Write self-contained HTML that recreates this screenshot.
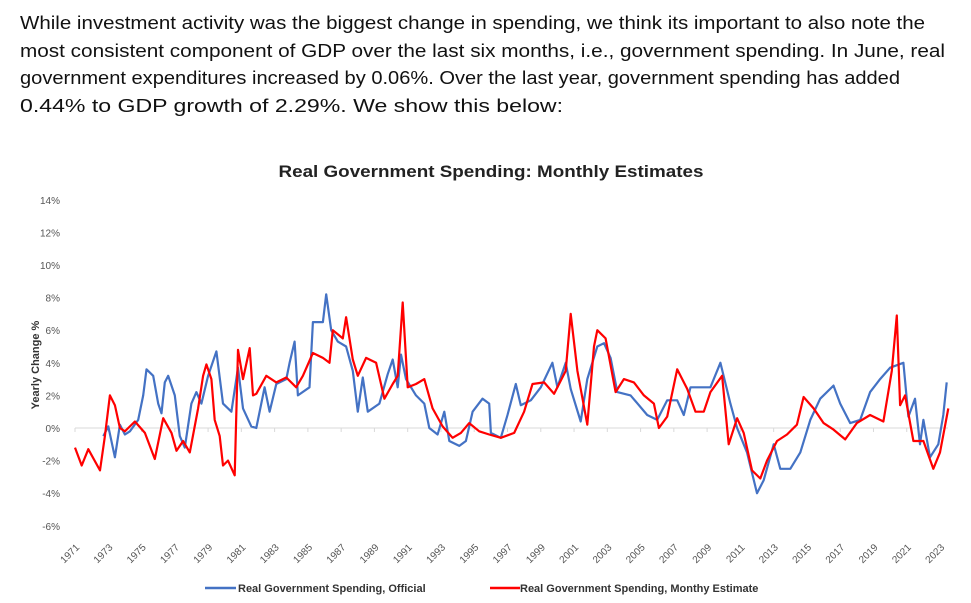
<!DOCTYPE html>
<html><head><meta charset="utf-8"><style>
html,body{margin:0;padding:0;background:#fff;}
svg{display:block;font-family:"Liberation Sans",sans-serif;}
</style></head><body>
<svg id="c" width="971" height="603" viewBox="0 0 971 603">
<g font-size="18" fill="#111">
<text x="20" y="29" textLength="905" lengthAdjust="spacingAndGlyphs">While investment activity was the biggest change in spending, we think its important to also note the</text>
<text x="20" y="57" textLength="925" lengthAdjust="spacingAndGlyphs">most consistent component of GDP over the last six months, i.e., government spending. In June, real</text>
<text x="20" y="84" textLength="880" lengthAdjust="spacingAndGlyphs">government expenditures increased by 0.06%. Over the last year, government spending has added</text>
<text x="20" y="112" textLength="543" lengthAdjust="spacingAndGlyphs">0.44%  to GDP growth of 2.29%. We show this below:</text>
</g>
<text x="491" y="177" text-anchor="middle" font-size="17" font-weight="bold" fill="#222" textLength="425" lengthAdjust="spacingAndGlyphs">Real Government Spending: Monthly Estimates</text>
<text transform="translate(39,365) rotate(-90)" text-anchor="middle" font-size="11" font-weight="bold" fill="#333">Yearly Change %</text>
<g id="yt"></g><g id="xt"></g><g id="plot"></g>
<g>
<line x1="205" y1="588" x2="236" y2="588" stroke="#4472c4" stroke-width="2.5"/>
<text x="238" y="592" font-size="11" font-weight="bold" fill="#333">Real Government Spending, Official</text>
<line x1="490" y1="588" x2="520" y2="588" stroke="#ff0000" stroke-width="2.5"/>
<text x="520" y="592" font-size="11" font-weight="bold" fill="#333">Real Government Spending, Monthy Estimate</text>
</g>
</svg>
<script>
const yTicks=[14,12,10,8,6,4,2,0,-2,-4,-6];
const xYears=[1971,1973,1975,1977,1979,1981,1983,1985,1987,1989,1991,1993,1995,1997,1999,2001,2003,2005,2007,2009,2011,2013,2015,2017,2019,2021,2023];
const officialYears=[1972.7,1973.0,1973.4,1973.7,1974.0,1974.3,1974.8,1975.1,1975.3,1975.7,1976.0,1976.2,1976.4,1976.6,1977.0,1977.3,1977.6,1978.0,1978.3,1978.6,1979.0,1979.5,1979.9,1980.4,1980.8,1981.1,1981.6,1981.9,1982.4,1982.7,1983.1,1983.7,1983.9,1984.2,1984.4,1985.1,1985.3,1985.9,1986.1,1986.4,1986.8,1987.3,1987.7,1988.0,1988.3,1988.6,1989.3,1989.8,1990.1,1990.4,1990.6,1990.9,1991.5,1992.0,1992.3,1992.8,1993.2,1993.5,1994.1,1994.5,1994.9,1995.5,1995.9,1996.0,1996.6,1997.0,1997.5,1997.8,1998.4,1999.0,1999.7,2000.0,2000.5,2000.8,2001.4,2001.8,2002.4,2002.8,2003.2,2003.6,2004.4,2005.4,2006.0,2006.6,2007.2,2007.6,2008.0,2009.2,2009.8,2010.4,2010.8,2011.4,2012.0,2012.4,2013.0,2013.4,2014.0,2014.6,2015.2,2015.8,2016.6,2017.0,2017.6,2018.2,2018.8,2019.4,2020.0,2020.8,2021.1,2021.5,2021.8,2022.0,2022.4,2022.9,2023.2,2023.4];
const officialValues=[-0.5,0.1,-1.8,0.2,-0.4,-0.2,0.5,2.0,3.6,3.2,1.5,0.9,2.8,3.2,2.0,-0.5,-1.2,1.5,2.2,1.5,3.2,4.7,1.5,1.0,3.7,1.2,0.1,0.0,2.5,1.0,2.7,3.0,4.0,5.3,2.0,2.5,6.5,6.5,8.2,6.0,5.3,5.0,3.5,1.0,3.1,1.0,1.5,3.3,4.2,2.5,4.5,3.0,2.0,1.5,0.0,-0.4,1.0,-0.8,-1.1,-0.8,1.0,1.8,1.5,-0.3,-0.6,0.8,2.7,1.4,1.7,2.5,4.0,2.5,4.0,2.4,0.4,3.0,5.0,5.2,4.3,2.2,2.0,0.8,0.5,1.7,1.7,0.8,2.5,2.5,4.0,1.5,0.0,-1.5,-4.0,-3.2,-1.0,-2.5,-2.5,-1.5,0.5,1.8,2.6,1.5,0.3,0.5,2.2,3.0,3.7,4.0,0.7,1.8,-1.0,0.5,-1.8,-1.0,0.8,2.8];
const estimateYears=[1971.0,1971.4,1971.8,1972.5,1972.8,1973.1,1973.4,1973.7,1974.0,1974.6,1975.2,1975.8,1976.3,1976.8,1977.1,1977.5,1977.9,1978.4,1978.7,1978.9,1979.2,1979.4,1979.7,1979.9,1980.2,1980.6,1980.8,1981.1,1981.5,1981.7,1981.9,1982.5,1983.1,1983.7,1984.3,1984.7,1985.3,1985.9,1986.3,1986.5,1987.1,1987.3,1987.7,1988.0,1988.5,1989.1,1989.6,1990.1,1990.4,1990.7,1991.0,1991.5,1992.0,1992.5,1993.1,1993.7,1994.2,1994.7,1995.3,1995.9,1996.6,1997.4,1998.0,1998.5,1999.2,1999.8,2000.5,2000.8,2001.2,2001.8,2002.2,2002.4,2002.9,2003.5,2004.0,2004.6,2005.2,2005.8,2006.1,2006.6,2007.2,2007.8,2008.3,2008.8,2009.2,2009.9,2010.3,2010.8,2011.2,2011.7,2012.2,2012.6,2013.2,2013.8,2014.4,2014.8,2015.4,2016.0,2016.6,2017.3,2018.0,2018.8,2019.6,2020.1,2020.4,2020.6,2020.9,2021.4,2022.0,2022.6,2023.0,2023.5];
const estimateValues=[-1.2,-2.3,-1.3,-2.6,-0.5,2.0,1.4,0.0,-0.2,0.4,-0.3,-1.9,0.6,-0.3,-1.4,-0.8,-1.5,1.2,3.2,3.9,3.0,0.5,-0.5,-2.3,-2.0,-2.9,4.8,3.0,4.9,2.0,2.1,3.2,2.8,3.1,2.5,3.2,4.6,4.3,4.0,6.0,5.5,6.8,4.2,3.2,4.3,4.0,1.8,2.7,3.2,7.7,2.5,2.7,3.0,1.2,0.1,-0.6,-0.3,0.3,-0.2,-0.4,-0.6,-0.3,1.0,2.7,2.8,2.1,3.5,7.0,3.5,0.2,5.0,6.0,5.5,2.2,3.0,2.8,2.0,1.5,0.0,0.7,3.6,2.4,1.0,1.0,2.2,3.2,-1.0,0.6,-0.3,-2.6,-3.1,-2.0,-0.8,-0.4,0.2,1.9,1.2,0.3,-0.1,-0.7,0.3,0.8,0.4,3.5,6.9,1.4,2.0,-0.8,-0.8,-2.5,-1.5,1.2];
const NS='http://www.w3.org/2000/svg';
const X0=75,X1=940,T0=1971,T1=2023;
function xs(t){return X0+(t-T0)*(X1-X0)/(T1-T0);}
function ys(v){return 428-v*16.3;}
function mk(tag,attrs,parent){const e=document.createElementNS(NS,tag);for(const k in attrs)e.setAttribute(k,attrs[k]);parent.appendChild(e);return e;}
const yt=document.getElementById('yt'),xt=document.getElementById('xt'),plot=document.getElementById('plot');
yTicks.forEach(v=>{
  const t=mk('text',{x:60,y:ys(v)+4,'text-anchor':'end','font-size':10,fill:'#555'},yt);
  t.textContent=v+'%';
  
  
});
const zl=mk('line',{x1:X0,x2:X1+8,y1:ys(0),y2:ys(0),stroke:'#d9d9d9','stroke-width':1},plot);


xYears.forEach(yr=>{
  const x=xs(yr);
  const tk=mk('line',{x1:x,x2:x,y1:ys(0),y2:ys(0)+4,stroke:'#d9d9d9'},plot);
  
  
  const t=mk('text',{transform:'translate('+(x+5)+',548) rotate(-45)','text-anchor':'end','font-size':10,fill:'#555'},xt);
  t.textContent=yr;
  
  
});
function line(ts,vs,color,name){
  const d=ts.map((t,i)=>(i?'L':'M')+xs(t).toFixed(1)+' '+ys(vs[i]).toFixed(1)).join(' ');
  const p=mk('path',{d:d,fill:'none',stroke:color,'stroke-width':2.2,'stroke-linejoin':'round'},plot);
  
  
}
line(officialYears,officialValues,'#4472c4','official-series-line');
line(estimateYears,estimateValues,'#ff0000','monthly-estimate-series-line');
</script>
</body></html>
